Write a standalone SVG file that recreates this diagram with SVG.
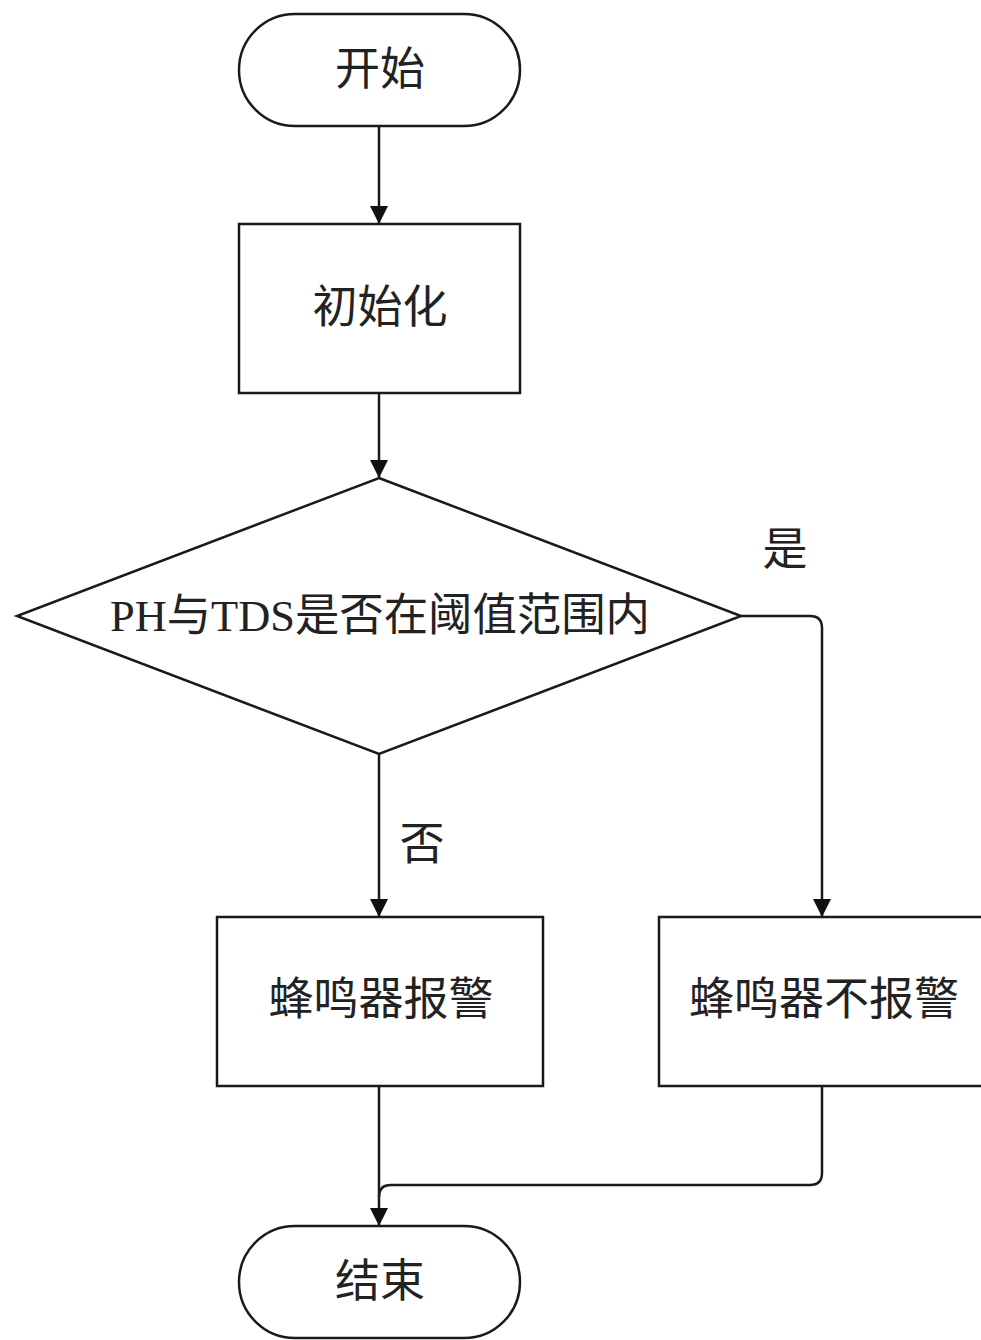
<svg xmlns="http://www.w3.org/2000/svg" width="981" height="1340" viewBox="0 0 981 1340">
<style>
.s{fill:#fff;stroke:#1a1a1a;stroke-width:2.5}
.c{fill:none;stroke:#1a1a1a;stroke-width:2.5}
.t{font-family:"Liberation Serif","Noto Sans CJK SC",serif;font-size:45px;fill:#222;text-anchor:middle;dominant-baseline:central}
</style>
<defs>
<marker id="b" markerWidth="18" markerHeight="18" refX="18" refY="9" orient="auto" markerUnits="userSpaceOnUse" viewBox="0 0 18 18">
<path d="M0,0 L18,9 L0,18 Z" fill="#111"/>
</marker>
</defs>
<rect width="981" height="1340" fill="#fff"/>
<g id="connectors">
<path class="c" d="M379,126 V224" marker-end="url(#b)"/>
<path class="c" d="M379,393 V478" marker-end="url(#b)"/>
<path class="c" d="M741,616 H810 Q822,616 822,628 V917" marker-end="url(#b)"/>
<path class="c" d="M379,754 V917" marker-end="url(#b)"/>
<path class="c" d="M379,1086 V1226" marker-end="url(#b)"/>
<path class="c" d="M822,1086 V1173 Q822,1185 810,1185 H391 Q379,1185 379,1197"/>
<text class="t" x="785" y="550" font-size="40">是</text>
<text class="t" x="422" y="845" font-size="40">否</text>
</g>
<g id="start">
<rect class="s" x="239" y="14" width="281" height="112" rx="56" ry="56"/>
<text class="t" x="380" y="70">开始</text>
</g>
<g id="init">
<rect class="s" x="239" y="224" width="281" height="169"/>
<text class="t" x="380" y="308">初始化</text>
</g>
<g id="decision">
<polygon class="s" points="379,478 741,616 379,754 17,616"/>
<text class="t" x="380" y="616" font-size="42" textLength="540" lengthAdjust="spacingAndGlyphs">PH与TDS是否在阈值范围内</text>
</g>
<g id="alarm">
<rect class="s" x="217" y="917" width="326" height="169"/>
<text class="t" x="381" y="1000">蜂鸣器报警</text>
</g>
<g id="noalarm">
<rect class="s" x="659" y="917" width="340" height="169"/>
<text class="t" x="824" y="1000">蜂鸣器不报警</text>
</g>
<g id="end">
<rect class="s" x="239" y="1226" width="281" height="112" rx="56" ry="56"/>
<text class="t" x="380" y="1282">结束</text>
</g>
</svg>
